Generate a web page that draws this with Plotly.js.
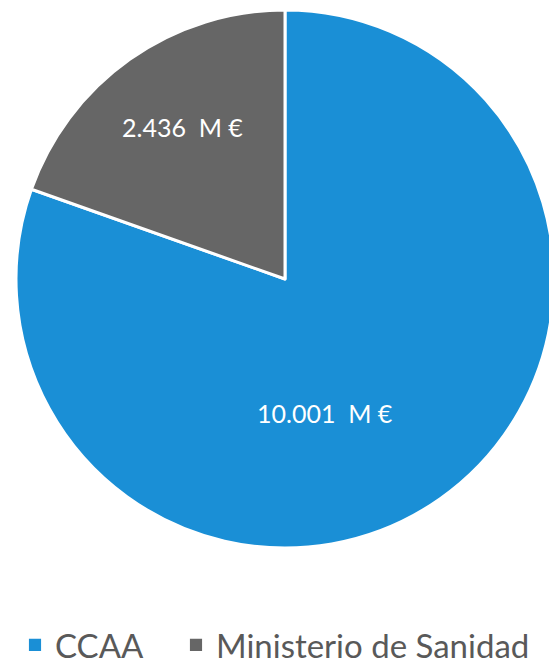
<!DOCTYPE html>
<html><head><meta charset="utf-8">
<script src="https://cdn.plot.ly/plotly-3.0.1.min.js"></script>
<style>html,body{margin:0;padding:0;overflow:hidden;background:#fff;width:549px;height:667px}#c{width:580px;height:667px}</style>
</head><body><div id="c"></div>
<script>
const categories = ["CCAA", "Ministerio de Sanidad"];
const values = [10001, 2436];
const labelsText = ["10.001  M €", "2.436  M €"];
const colors = ["#1A8FD6", "#666666"];
const labelPos = [[0.574, 0.251], [0.311, 0.783]];

const fontFam = "Lato, 'Open Sans', sans-serif";
Plotly.newPlot("c", [{
  type: "pie",
  labels: categories,
  values: values,
  textinfo: "none",
  sort: false,
  direction: "clockwise",
  rotation: 0,
  marker: {colors: colors, line: {color: "#ffffff", width: 3}},
  hoverinfo: "none"
}], {
  width: 580, height: 667,
  margin: {l: 15, r: 25, t: 10, b: 119},
  paper_bgcolor: "#ffffff",
  showlegend: true,
  annotations: labelsText.map((t, i) => ({
    text: t, xref: "paper", yref: "paper", x: labelPos[i][0], y: labelPos[i][1],
    xanchor: "center", yanchor: "middle", showarrow: false,
    font: {family: fontFam, size: 25, color: "#ffffff"}
  })),
  legend: {orientation: "h", xref: "container", x: 15/580, xanchor: "left",
    yref: "container", y: 0.033, yanchor: "middle",
    font: {family: fontFam, size: 33, color: "#595959"},
    itemwidth: 30, tracegroupgap: 0}
}, {staticPlot: true}).then(() => {
  document.querySelectorAll("#c .legendpoints path").forEach(p => {
    const t = p.getAttribute("transform") || "";
    p.setAttribute("transform", t + " scale(1.35)");
  });
  const tr = document.querySelectorAll("#c .legend .traces");
  if (tr.length > 1) {
    const m = /translate\(\s*([-\d.]+)[ ,]+([-\d.]+)/.exec(tr[0].getAttribute("transform") || "");
    if (m) tr[1].setAttribute("transform", "translate(" + (parseFloat(m[1]) + 161) + "," + m[2] + ")");
  }
  document.querySelectorAll("#c .legend clipPath rect, #c defs clipPath[id*='legend'] rect")
    .forEach(r => r.setAttribute("width", "800"));
});
</script></body></html>
